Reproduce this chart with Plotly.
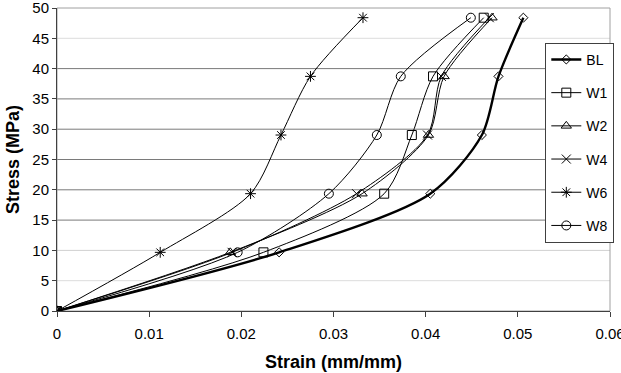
import plotly.graph_objects as go

stress = [0, 9.68, 19.36, 29.04, 38.72, 48.4]
series_names = ["BL", "W1", "W2", "W4", "W6", "W8"]
strain_BL = [0, 0.0241, 0.0405, 0.0461, 0.0479, 0.0506]
strain_W1 = [0, 0.0224, 0.0355, 0.0385, 0.0408, 0.0463]
strain_W2 = [0, 0.0188, 0.0331, 0.0403, 0.0420, 0.0472]
strain_W4 = [0, 0.0190, 0.0325, 0.0402, 0.0417, 0.0469]
strain_W6 = [0, 0.0112, 0.0210, 0.0243, 0.0275, 0.0332]
strain_W8 = [0, 0.0196, 0.0295, 0.0347, 0.0373, 0.0449]
strains = [strain_BL, strain_W1, strain_W2, strain_W4, strain_W6, strain_W8]
x_ticks = [0, 0.01, 0.02, 0.03, 0.04, 0.05, 0.06]
x_ticktext = ["0", "0.01", "0.02", "0.03", "0.04", "0.05", "0.06"]
symbols = ["diamond-open", "square-open", "triangle-up-open", "x-thin-open", "asterisk-open", "circle-open"]
widths = [2.4, 1, 1, 1, 1, 1]
sizes = [7, 9, 9, 9, 9, 9]

fig = go.Figure()
for name, xs, sym, w, s in zip(series_names, strains, symbols, widths, sizes):
    fig.add_trace(go.Scatter(
        x=xs, y=stress, name=name, legendgroup=name,
        mode="lines+markers",
        line=dict(color="black", width=w, shape="spline", smoothing=0.8),
        marker=dict(symbol=sym, size=s, color="black", line=dict(color="black", width=1)),
    ))

# grid lines (varying shades as in the reference)
grid_levels = [5, 10, 15, 20, 25, 30, 35, 40, 45]
grid_colors = ["#dcdcdc", "#d0d0d0", "#7a7a7a", "#7a7a7a", "#7a7a7a", "#7a7a7a", "#7a7a7a", "#7a7a7a", "#dcdcdc"]
for lv, c in zip(grid_levels, grid_colors):
    fig.add_shape(type="line", xref="paper", yref="y", x0=0, x1=1, y0=lv, y1=lv,
                  line=dict(color=c, width=1), layer="below")
fig.add_shape(type="rect", xref="paper", yref="paper", x0=0, x1=1, y0=0, y1=1,
              line=dict(color="#a0a0a0", width=1), layer="below")

fig.update_layout(
    width=621, height=373,
    margin=dict(l=57, r=7, t=8, b=62),
    paper_bgcolor="white", plot_bgcolor="white",
    font=dict(family="Liberation Sans, Arial, sans-serif", size=15, color="black"),
    showlegend=True,
    legend=dict(x=0.883, y=0.885, xanchor="left", yanchor="top",
                bgcolor="white", bordercolor="#404040", borderwidth=1,
                font=dict(size=14), tracegroupgap=12, itemwidth=30),
    xaxis=dict(range=[0, 0.06], tickvals=x_ticks, ticktext=x_ticktext,
               showgrid=False, zeroline=False, automargin=False,
               showline=True, linecolor="#404040", linewidth=1,
               ticks="outside", ticklen=5, tickcolor="#404040",
               ticklabeloverflow="allow", ticklabelstandoff=4,
               title=dict(text="<b>Strain (mm/mm)</b>", font=dict(size=18), standoff=14)),
    yaxis=dict(range=[0, 50], dtick=5, showgrid=False, zeroline=False, automargin=False,
               showline=True, linecolor="#404040", linewidth=1,
               ticks="outside", ticklen=4, tickcolor="#404040",
               ticklabeloverflow="allow",
               title=dict(text="<b>Stress (MPa)</b>", font=dict(size=18), standoff=8)),
)

fig.write_html("out.html")
